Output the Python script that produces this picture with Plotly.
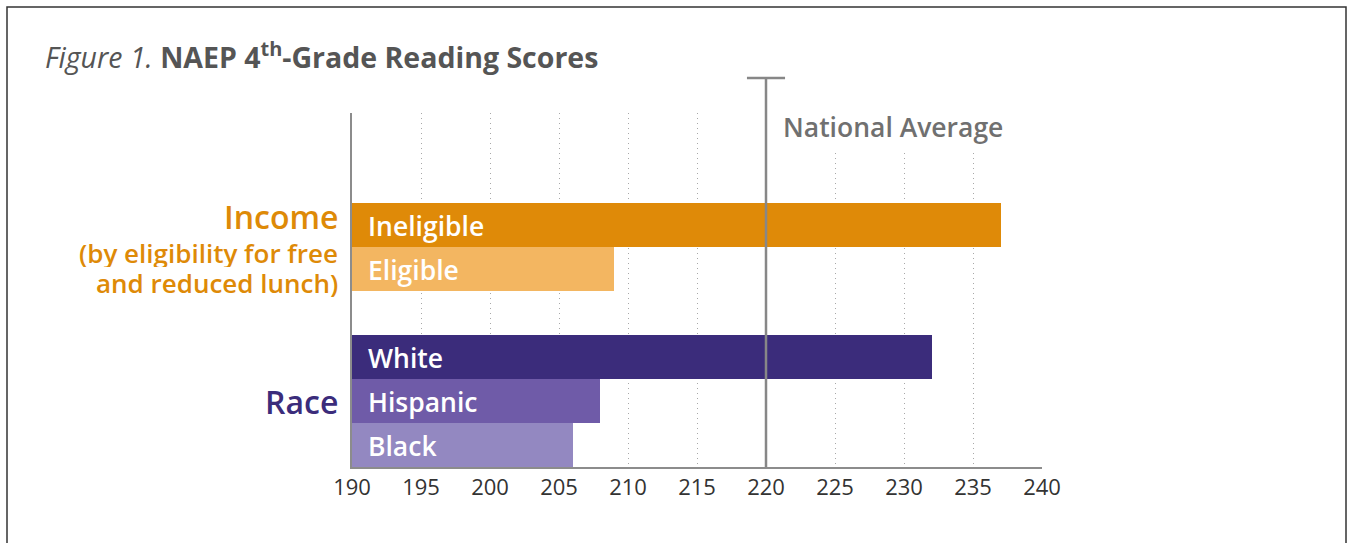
import plotly.graph_objects as go

# ---- data ----
categories = ["Ineligible", "Eligible", "White", "Hispanic", "Black"]
scores = [237, 209, 232, 208, 206]
bar_colors = ["#DF8A08", "#F3B661", "#3B2C7B", "#6F5BA8", "#9388C1"]
gap_label = "\u2002"
category_order = ["Black", "Hispanic", "White", gap_label, "Eligible", "Ineligible"]
national_average = 220
x_ticks = [190, 195, 200, 205, 210, 215, 220, 225, 230, 235, 240]
group_title_income = "Income"
group_sub_income = ["(by eligibility for free", "and reduced lunch)"]
group_title_race = "Race"

FONT = "Open Sans"
L, R, T, B = 352, 307, 113, 76
W, H = 1349, 543
PW, PH = W - L - R, H - T - B


def px(xp):
    return (xp - L) / PW


def py(yp):
    return (H - B - yp) / PH


fig = go.Figure()
fig.add_trace(go.Bar(
    y=categories + [gap_label],
    x=scores + [None],
    orientation="h",
    marker=dict(color=bar_colors + ["rgba(0,0,0,0)"], line=dict(width=0)),
    hoverinfo="x+y",
    showlegend=False,
))

annotations = []
for c in categories:
    annotations.append(dict(
        x=x_ticks[0], y=c, xref="x", yref="y", text=c, showarrow=False,
        xanchor="left", yanchor="middle", xshift=14, yshift=-1,
        font=dict(family=FONT, size=26.5, color="white", weight=600),
    ))

annotations += [
    dict(x=0, y="Ineligible", xref="paper", yref="y", text=group_title_income,
         showarrow=False, xanchor="right", yanchor="middle", xshift=-12, yshift=8,
         font=dict(family=FONT, size=32, color="#DE8A07", weight=600)),
    dict(x=0, y=py(253), xref="paper", yref="paper", text=group_sub_income[0],
         showarrow=False, xanchor="right", yanchor="middle", xshift=-12, height=28,
         font=dict(family=FONT, size=26, color="#DE8A07", weight=600)),
    dict(x=0, y=py(283), xref="paper", yref="paper", text=group_sub_income[1],
         showarrow=False, xanchor="right", yanchor="middle", xshift=-12, height=28,
         font=dict(family=FONT, size=26, color="#DE8A07", weight=600)),
    dict(x=0, y="Hispanic", xref="paper", yref="y", text=group_title_race,
         showarrow=False, xanchor="right", yanchor="middle", xshift=-12,
         font=dict(family=FONT, size=32, color="#3B2C7B", weight=600)),
    dict(x=national_average, y=py(127), xref="x", yref="paper", text="National Average",
         showarrow=False, xanchor="left", yanchor="middle", xshift=12,
         bgcolor="white", borderpad=4,
         font=dict(family=FONT, size=26.5, color="#707070", weight=600)),
    dict(x=px(43), y=py(56), xref="paper", yref="paper",
         text="<i>Figure 1.</i> <b>NAEP 4<sup>th</sup>-Grade Reading Scores</b>",
         showarrow=False, xanchor="left", yanchor="middle",
         font=dict(family=FONT, size=28.5, color="#555555")),
]

cap = 1.38
shapes = [
    dict(type="line", xref="x", yref="paper", x0=national_average, x1=national_average,
         y0=0, y1=py(78), line=dict(color="#878787", width=2.5), layer="above"),
    dict(type="line", xref="x", yref="paper", x0=national_average - cap,
         x1=national_average + cap, y0=py(78), y1=py(78),
         line=dict(color="#878787", width=2.5), layer="above"),
    dict(type="rect", xref="paper", yref="paper", x0=px(7), x1=px(1346),
         y0=py(560), y1=py(7), line=dict(color="#333333", width=1.5),
         fillcolor="rgba(0,0,0,0)", layer="above"),
]

fig.update_layout(
    width=W, height=H,
    margin=dict(l=L, r=R, t=T, b=B, pad=0),
    paper_bgcolor="white", plot_bgcolor="white",
    bargap=0,
    annotations=annotations,
    shapes=shapes,
    font=dict(family=FONT),
    xaxis=dict(
        range=[x_ticks[0], x_ticks[-1]], tickvals=x_ticks,
        showgrid=True, griddash="1px,4px", gridcolor="#a8a8a8", gridwidth=1,
        showline=True, linecolor="#8c8c8c", linewidth=2, zeroline=False,
        ticks="", tickfont=dict(family=FONT, size=22, color="#333333"),
        fixedrange=True,
    ),
    yaxis=dict(
        type="category", categoryorder="array", categoryarray=category_order,
        range=[-0.5, 7.545], showticklabels=False, showgrid=False,
        showline=True, linecolor="#8c8c8c", linewidth=2, zeroline=False,
        ticks="", fixedrange=True,
    ),
)

fig.write_html("out.html", post_script="document.body.style.margin='0';document.body.style.overflow='hidden';",
               config={"displayModeBar": False})
